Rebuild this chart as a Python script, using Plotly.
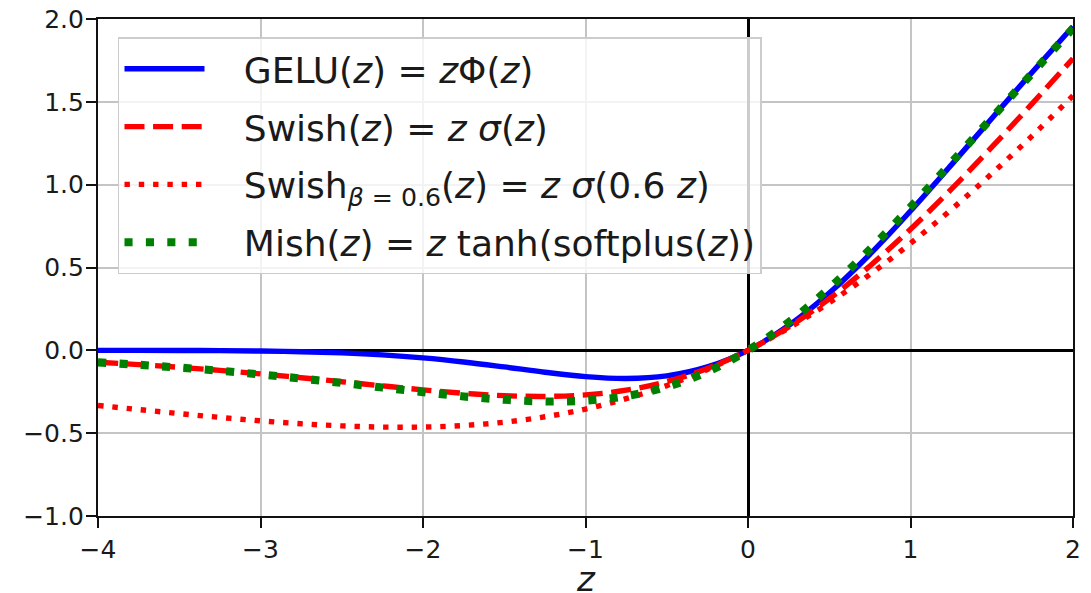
import plotly.graph_objects as go

# z sample positions
z = [-4.0, -3.75, -3.5, -3.25, -3.0, -2.75, -2.5, -2.25, -2.0, -1.75, -1.5, -1.25,
     -1.0, -0.75, -0.5, -0.25, 0.0, 0.25, 0.5, 0.75, 1.0, 1.25, 1.5, 1.75, 2.0]

gelu = [-0.0001, -0.0003, -0.0008, -0.0019, -0.0040, -0.0082, -0.0155, -0.0275,
        -0.0455, -0.0701, -0.1002, -0.1321, -0.1587, -0.1700, -0.1543, -0.1003,
        0.0, 0.1497, 0.3457, 0.5800, 0.8413, 1.1179, 1.3998, 1.6799, 1.9545]

swish = [-0.0719, -0.0862, -0.1026, -0.1213, -0.1423, -0.1652, -0.1896, -0.2145,
         -0.2384, -0.2591, -0.2736, -0.2784, -0.2689, -0.2406, -0.1888, -0.1095,
         0.0, 0.1405, 0.3112, 0.5094, 0.7311, 0.9716, 1.2264, 1.4909, 1.7616]

swish06 = [-0.3327, -0.3575, -0.3818, -0.4048, -0.4256, -0.4431, -0.4561, -0.4632,
           -0.4630, -0.4537, -0.4336, -0.4010, -0.3543, -0.2920, -0.2128, -0.1156,
           0.0, 0.1344, 0.2872, 0.4580, 0.6457, 0.8490, 1.0664, 1.2963, 1.5370]

mish = [-0.0726, -0.0872, -0.1041, -0.1236, -0.1456, -0.1702, -0.1968, -0.2247,
        -0.2525, -0.2782, -0.2981, -0.3085, -0.3034, -0.2765, -0.2208, -0.1299,
        0.0, 0.1696, 0.3753, 0.6100, 0.8651, 1.1318, 1.4033, 1.6742, 1.9440]

names = [
    "GELU(<i>z</i>) = <i>z</i>Φ(<i>z</i>)",
    "Swish(<i>z</i>) = <i>z σ</i>(<i>z</i>)",
    "Swish<sub><i>β</i> = 0.6</sub>(<i>z</i>) = <i>z σ</i>(0.6 <i>z</i>)",
    "Mish(<i>z</i>) = <i>z</i> tanh(softplus(<i>z</i>))",
]
label_pad = "\u00a0\u00a0\u00a0"
x_title = "<i>z</i>"

x_ticks = [-4, -3, -2, -1, 0, 1, 2]
y_ticks = [-1.0, -0.5, 0.0, 0.5, 1.0, 1.5, 2.0]
y_tick_text = ["−1.0", "−0.5", "0.0", "0.5", "1.0", "1.5", "2.0"]
x_tick_text = ["−4", "−3", "−2", "−1", "0", "1", "2"]

styles = [
    dict(color="#0000ff", width=5.4, dash="solid"),
    dict(color="#ff0000", width=5.4, dash="20px,8.6px"),
    dict(color="#ff0000", width=5.4, dash="5.4px,8.9px"),
    dict(color="#008000", width=8.1, dash="8.1px,13.3px"),
]

fig = go.Figure()
for i, (ys, nm, st) in enumerate(zip([gelu, swish, swish06, mish], names, styles)):
    fig.add_trace(go.Scatter(
        x=z, y=ys, mode="lines", name=label_pad + nm, line=dict(shape="spline", **st),
        legendgroup=f"g{i}", hoverinfo="skip"))

axis_common = dict(
    showgrid=True, gridcolor="#c4c4c4", gridwidth=1.6,
    zeroline=True, zerolinecolor="black", zerolinewidth=2.7,
    showline=True, linecolor="#111111", linewidth=2.2, mirror=True,
    ticks="outside", ticklen=10, tickwidth=2.2, tickcolor="#111111",
    tickfont=dict(family="DejaVu Sans", size=25, color="#1a1a1a"),
    automargin=False, ticklabeloverflow="allow",
)

fig.update_layout(
    width=1083, height=585,
    margin=dict(l=90, r=18, t=11, b=77),
    paper_bgcolor="white", plot_bgcolor="white",
    font=dict(family="DejaVu Sans", color="#1a1a1a"),
    xaxis=dict(range=[-4, 2], tickvals=x_ticks, ticktext=x_tick_text, **axis_common),
    yaxis=dict(range=[-1, 2], tickvals=y_ticks, ticktext=y_tick_text,
               ticklabelstandoff=-3, **axis_common),
    legend=dict(x=0.0205, y=0.963, xanchor="left", yanchor="top",
                bgcolor="rgba(255,255,255,0.8)", bordercolor="#cccccc", borderwidth=1.5,
                font=dict(family="DejaVu Sans", size=36, color="#1a1a1a"),
                itemwidth=80, tracegroupgap=8, traceorder="grouped"),
    showlegend=True,
    annotations=[dict(text=x_title, xref="paper", yref="paper", x=0.5, y=0,
                      xanchor="center", yanchor="middle", yshift=-63, showarrow=False,
                      font=dict(family="DejaVu Sans", size=34, color="#1a1a1a"))],
)

fig.write_html("out.html")
